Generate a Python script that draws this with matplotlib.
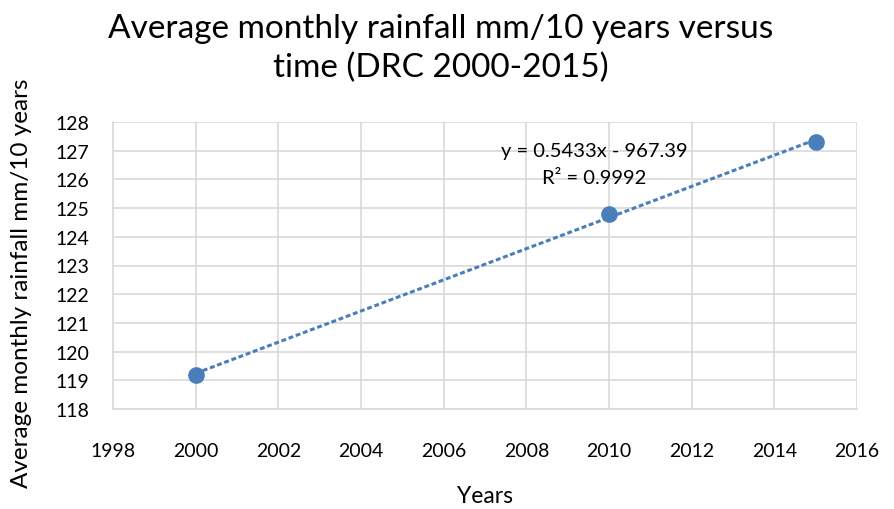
import numpy as np
import matplotlib

matplotlib.use("Agg")
import matplotlib.pyplot as plt

# data
years = [2000, 2010, 2015]
rainfall = [119.2, 124.8, 127.3]
x_ticks = list(range(1998, 2017, 2))
y_ticks = list(range(118, 129))

BLUE = "#4a7ebb"
GRID = "#d9d9d9"
TEXT = "#000000"

plt.rcParams["font.family"] = ["Lato", "DejaVu Sans"]

fig = plt.figure(figsize=(8.94, 5.10), dpi=100)
ax = fig.add_axes([113 / 894, 1 - 410 / 510, (857 - 113) / 894, (410 - 123) / 510])

# linear trendline, same as Excel's
slope, intercept = np.polyfit(years, rainfall, 1)
trend_x = np.array([years[0], years[-1]])
ax.plot(trend_x, slope * trend_x + intercept, color=BLUE, linewidth=2.2,
        linestyle=(0, (1.6, 0.9)), zorder=2)
ax.plot(years, rainfall, linestyle="none", marker="o", markersize=11,
        color=BLUE, zorder=3)

ax.set_xlim(1998, 2016)
ax.set_ylim(118, 128)
ax.set_xticks(x_ticks)
ax.set_yticks(y_ticks)
ax.grid(color=GRID, linewidth=1.2)
ax.set_axisbelow(True)
for side in ("top", "right"):
    ax.spines[side].set_visible(False)
for side in ("left", "bottom"):
    ax.spines[side].set_color(GRID)
    ax.spines[side].set_linewidth(1.2)
ax.tick_params(length=0, labelsize=14, colors=TEXT)
ax.tick_params(axis="y", pad=17)
ax.tick_params(axis="x", pad=24)

ax.text(2009.65, 127.0, "y = 0.5433x - 967.39", fontsize=14.5, ha="center", va="center")
ax.text(2009.65, 126.06, "R² = 0.9992", fontsize=14.5, ha="center", va="center")

fig.text(441 / 894, 1 - 49 / 510, "Average monthly rainfall mm/10 years versus\ntime (DRC 2000-2015)",
         fontsize=24, ha="center", va="center", linespacing=1.35)
fig.text(485 / 894, 1 - 497 / 510, "Years", fontsize=16.5, ha="center", va="center")
fig.text(22 / 894, 1 - 283 / 510, "Average monthly rainfall mm/10 years", fontsize=17.5,
         ha="center", va="center", rotation=90)

fig.savefig("out.png", dpi=100)
